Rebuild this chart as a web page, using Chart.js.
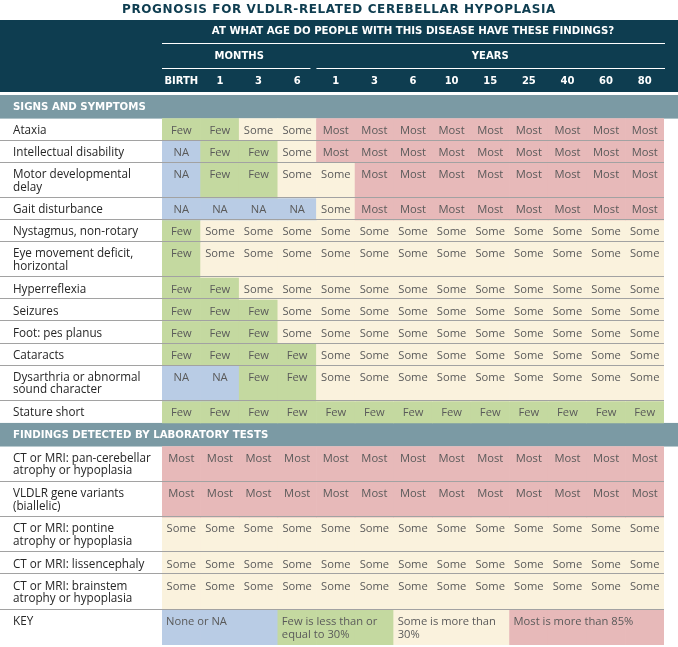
<!DOCTYPE html>
<html>
<head>
<meta charset="utf-8">
<script src="https://cdn.jsdelivr.net/npm/chart.js@4.4.1/dist/chart.umd.min.js"></script>
<style>
  html, body { margin: 0; padding: 0; background: #fff; }
</style>
</head>
<body>
<canvas id="prognosisChart" width="678" height="647"></canvas>
<script>
// table content
const chartTitle = "PROGNOSIS FOR VLDLR-RELATED CEREBELLAR HYPOPLASIA";
const questionText = "AT WHAT AGE DO PEOPLE WITH THIS DISEASE HAVE THESE FINDINGS?";
const ageLabels = ["BIRTH", "1", "3", "6", "1", "3", "6", "10", "15", "25", "40", "60", "80"];
const ageGroups = ["MONTHS", "YEARS"];
const ageGroupSizes = [4, 9];

const signsTitle = "SIGNS AND SYMPTOMS";
const signsLabels = [
  ["Ataxia"],
  ["Intellectual disability"],
  ["Motor developmental", "delay"],
  ["Gait disturbance"],
  ["Nystagmus, non-rotary"],
  ["Eye movement deficit,", "horizontal"],
  ["Hyperreflexia"],
  ["Seizures"],
  ["Foot: pes planus"],
  ["Cataracts"],
  ["Dysarthria or abnormal", "sound character"],
  ["Stature short"],
];
const signsValues = [
  ["Few", "Few", "Some", "Some", "Most", "Most", "Most", "Most", "Most", "Most", "Most", "Most", "Most"],
  ["NA", "Few", "Few", "Some", "Most", "Most", "Most", "Most", "Most", "Most", "Most", "Most", "Most"],
  ["NA", "Few", "Few", "Some", "Some", "Most", "Most", "Most", "Most", "Most", "Most", "Most", "Most"],
  ["NA", "NA", "NA", "NA", "Some", "Most", "Most", "Most", "Most", "Most", "Most", "Most", "Most"],
  ["Few", "Some", "Some", "Some", "Some", "Some", "Some", "Some", "Some", "Some", "Some", "Some", "Some"],
  ["Few", "Some", "Some", "Some", "Some", "Some", "Some", "Some", "Some", "Some", "Some", "Some", "Some"],
  ["Few", "Few", "Some", "Some", "Some", "Some", "Some", "Some", "Some", "Some", "Some", "Some", "Some"],
  ["Few", "Few", "Few", "Some", "Some", "Some", "Some", "Some", "Some", "Some", "Some", "Some", "Some"],
  ["Few", "Few", "Few", "Some", "Some", "Some", "Some", "Some", "Some", "Some", "Some", "Some", "Some"],
  ["Few", "Few", "Few", "Few", "Some", "Some", "Some", "Some", "Some", "Some", "Some", "Some", "Some"],
  ["NA", "NA", "Few", "Few", "Some", "Some", "Some", "Some", "Some", "Some", "Some", "Some", "Some"],
  ["Few", "Few", "Few", "Few", "Few", "Few", "Few", "Few", "Few", "Few", "Few", "Few", "Few"],
];

const labTitle = "FINDINGS DETECTED BY LABORATORY TESTS";
const labLabels = [
  ["CT or MRI: pan-cerebellar", "atrophy or hypoplasia"],
  ["VLDLR gene variants", "(biallelic)"],
  ["CT or MRI: pontine", "atrophy or hypoplasia"],
  ["CT or MRI: lissencephaly"],
  ["CT or MRI: brainstem", "atrophy or hypoplasia"],
];
const labValues = [
  ["Most", "Most", "Most", "Most", "Most", "Most", "Most", "Most", "Most", "Most", "Most", "Most", "Most"],
  ["Most", "Most", "Most", "Most", "Most", "Most", "Most", "Most", "Most", "Most", "Most", "Most", "Most"],
  ["Some", "Some", "Some", "Some", "Some", "Some", "Some", "Some", "Some", "Some", "Some", "Some", "Some"],
  ["Some", "Some", "Some", "Some", "Some", "Some", "Some", "Some", "Some", "Some", "Some", "Some", "Some"],
  ["Some", "Some", "Some", "Some", "Some", "Some", "Some", "Some", "Some", "Some", "Some", "Some", "Some"],
];

const keyTitle = "KEY";
const keyLevels = ["NA", "Few", "Some", "Most"];
const keyTexts = ["None or NA", "Few is less than or equal to 30%", "Some is more than 30%", "Most is more than 85%"];
const keySpans = [3, 3, 3, 4];

// colours
const levelColors = { NA: "#b9cce5", Few: "#c4d9a0", Some: "#faf2dd", Most: "#e7b9b9" };
const darkTeal = "#0e3d50";
const bandGray = "#7b9aa4";
const ruleGray = "#a2a2a2";
const FONT_BODY = '"Open Sans", sans-serif';
const FONT_HEAD = '"DejaVu Sans", sans-serif';

// build row list (bands + data rows), each row spans 1 or 1.6 units
const rows = [];
function pushSection(title, labels, values) {
  rows.push({ kind: "band", text: title, span: 1.07 });
  labels.forEach((lines, i) => {
    rows.push({ kind: "row", lines: lines, values: values[i], span: lines.length > 1 ? 1.6 : 1 });
  });
}
pushSection(signsTitle, signsLabels, signsValues);
pushSection(labTitle, labLabels, labValues);

const keyValues = [];
keyLevels.forEach((lvl, i) => {
  for (let k = 0; k < keySpans[i]; k++) keyValues.push(lvl);
});
rows.push({ kind: "key", lines: [keyTitle], values: keyValues, span: 1.6 });

let acc = 0;
rows.forEach((r) => {
  r.top = acc;
  acc += r.span;
  r.bottom = acc;
});
const totalSpan = acc;

const dataRows = rows.filter((r) => r.kind !== "band");

const datasets = dataRows.map((r) => ({
  label: r.lines.join(" "),
  data: r.values.map(() => [r.top, r.bottom]),
  backgroundColor: r.values.map((v) => levelColors[v]),
  borderWidth: 0,
  grouped: false,
  categoryPercentage: 1,
  barPercentage: 1,
}));

// wrap text into lines that fit maxWidth
function wrapText(ctx, text, maxWidth) {
  const words = text.split(" ");
  const lines = [];
  let line = "";
  words.forEach((w) => {
    const test = line ? line + " " + w : w;
    if (ctx.measureText(test).width > maxWidth && line) {
      lines.push(line);
      line = w;
    } else {
      line = test;
    }
  });
  if (line) lines.push(line);
  return lines;
}

const tablePlugin = {
  id: "tablePlugin",
  beforeDraw(chart) {
    const ctx = chart.ctx;
    const area = chart.chartArea;
    const x = chart.scales.x;
    const colW = (area.right - area.left) / ageLabels.length;
    ctx.save();
    ctx.fillStyle = "#fff";
    ctx.fillRect(0, 0, chart.width, chart.height);

    // title
    ctx.fillStyle = darkTeal;
    ctx.font = "bold 12px " + FONT_HEAD;
    ctx.letterSpacing = "0.6px";
    ctx.textAlign = "center";
    ctx.textBaseline = "middle";
    ctx.fillText(chartTitle, chart.width / 2, 10);
    ctx.letterSpacing = "0px";

    // header band
    ctx.fillStyle = darkTeal;
    ctx.fillRect(0, 20, chart.width, 72);
    ctx.fillStyle = "#fff";
    ctx.font = "bold 10.2px " + FONT_HEAD;
    ctx.fillText(questionText, (area.left + area.right) / 2, 31.5);

    ctx.strokeStyle = "#fff";
    ctx.lineWidth = 1;
    ctx.beginPath();
    ctx.moveTo(area.left, 43.5);
    ctx.lineTo(area.right + 1, 43.5);
    ctx.stroke();

    ctx.font = "bold 10px " + FONT_HEAD;
    let start = 0;
    ageGroups.forEach((g, gi) => {
      const n = ageGroupSizes[gi];
      const left = x.getPixelForValue(start) - colW / 2;
      const right = x.getPixelForValue(start + n - 1) + colW / 2;
      ctx.fillText(g, (left + right) / 2, 56);
      ctx.beginPath();
      ctx.moveTo(left, 68.5);
      ctx.lineTo(right - (gi < ageGroups.length - 1 ? 6 : -1), 68.5);
      ctx.stroke();
      start += n;
    });

    ageLabels.forEach((lab, i) => {
      ctx.fillText(lab, x.getPixelForValue(i), 81);
    });
    ctx.restore();
  },
  beforeDatasetsDraw(chart) {
    const ctx = chart.ctx;
    const y = chart.scales.y;
    ctx.save();
    rows.forEach((r) => {
      if (r.kind !== "band") return;
      const top = y.getPixelForValue(r.top);
      const bottom = y.getPixelForValue(r.bottom);
      ctx.fillStyle = bandGray;
      ctx.fillRect(0, top, chart.width, bottom - top);
      ctx.fillStyle = "#fff";
      ctx.font = "bold 10.2px " + FONT_HEAD;
      ctx.textAlign = "left";
      ctx.textBaseline = "middle";
      ctx.fillText(r.text, 13, (top + bottom) / 2 + 0.5);
    });
    ctx.restore();
  },
  afterDatasetsDraw(chart) {
    const ctx = chart.ctx;
    const y = chart.scales.y;
    const area = chart.chartArea;
    ctx.save();
    ctx.textBaseline = "middle";

    // separators
    ctx.strokeStyle = ruleGray;
    ctx.lineWidth = 1;
    rows.forEach((r, i) => {
      if (r.kind === "band" || i === 0 || rows[i - 1].kind === "band") return;
      const py = Math.round(y.getPixelForValue(r.top)) - 0.5;
      ctx.beginPath();
      ctx.moveTo(0, py);
      ctx.lineTo(area.right, py);
      ctx.stroke();
    });

    dataRows.forEach((r, di) => {
      const meta = chart.getDatasetMeta(di);
      const top = y.getPixelForValue(r.top);

      // row label
      ctx.fillStyle = "#262626";
      ctx.font = "500 11.7px " + FONT_BODY;
      ctx.textAlign = "left";
      r.lines.forEach((ln, li) => {
        ctx.fillText(ln, 13, top + 12 + li * 12.5);
      });

      ctx.font = "11.2px " + FONT_BODY;
      ctx.fillStyle = "#5a5a5a";
      if (r.kind === "row") {
        ctx.textAlign = "center";
        meta.data.forEach((bar, ci) => {
          ctx.fillText(r.values[ci], bar.x, top + 12);
        });
      } else {
        ctx.textAlign = "left";
        let ci = 0;
        keySpans.forEach((n, k) => {
          const first = meta.data[ci];
          const last = meta.data[ci + n - 1];
          const left = first.x - first.width / 2;
          const right = last.x + last.width / 2;
          const lines = wrapText(ctx, keyTexts[k], right - left - 8);
          lines.forEach((ln, li) => {
            ctx.fillText(ln, left + 4, top + 12 + li * 13);
          });
          ci += n;
        });
      }
    });
    ctx.restore();
  },
};

new Chart(document.getElementById("prognosisChart"), {
  type: "bar",
  data: { labels: ageLabels, datasets: datasets },
  options: {
    responsive: false,
    devicePixelRatio: 1,
    animation: false,
    events: [],
    layout: { padding: { left: 162, right: 14, top: 95, bottom: 2 } },
    plugins: { legend: { display: false }, tooltip: { enabled: false } },
    scales: {
      x: { type: "category", display: false },
      y: { type: "linear", display: false, min: 0, max: totalSpan, reverse: true },
    },
  },
  plugins: [tablePlugin],
});
</script>
</body>
</html>
